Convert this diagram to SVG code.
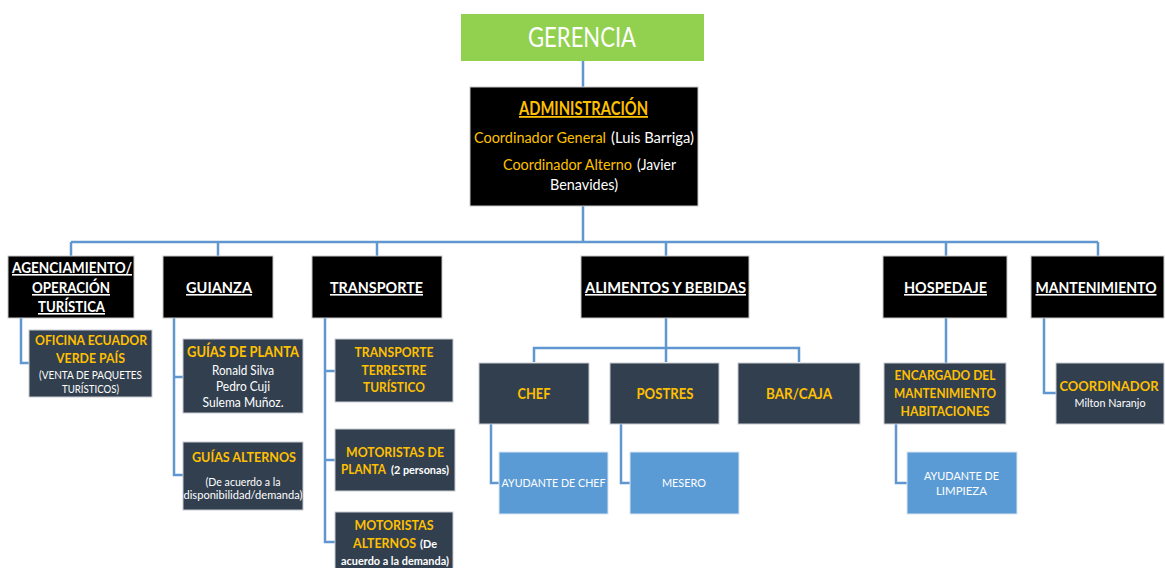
<svg xmlns="http://www.w3.org/2000/svg" width="1165" height="568" viewBox="0 0 1165 568">
<style>
text{font-family:Lato,"Liberation Sans",sans-serif;text-anchor:middle}
.s{text-anchor:start}
.blk{fill:#000;stroke:#c8c8c8;stroke-width:1}
.drk{fill:#323f4f;stroke:#c8ccd2;stroke-width:1}
.blu{fill:#5b9bd5;stroke:#dbe6f2;stroke-width:1}
.t{fill:#fff;font-weight:bold;font-size:16px;text-decoration:underline}
.o{fill:#ffc000;font-weight:bold}
.y{fill:#ffc000}
.w{fill:#fff}
.c{fill:none;stroke:#6197d0;stroke-width:2.5}
</style>
<g id="connectors">
<path class="c" d="M583 61V87M583 206V242M71 242H1098M71 242V256M218 242V256M377 242V256M666 242V256M946 242V256M1098 242V256"/>
<path class="c" d="M21 318V363H29"/>
<path class="c" d="M174 318V475H183M174 377H183"/>
<path class="c" d="M325 318V542H335M325 371H335M325 460H335"/>
<path class="c" d="M666 318V362M534 362V348H799V362"/>
<path class="c" d="M491 424V483H499M621 424V483H630"/>
<path class="c" d="M946 318V363M896 424V483H907"/>
<path class="c" d="M1044 318V393H1056"/>
</g>
<g id="gerencia"><rect x="461" y="14" width="243" height="47" fill="#92d050"/><text x="582" y="47" class="w" font-size="27" textLength="108" lengthAdjust="spacingAndGlyphs">GERENCIA</text></g>
<g id="administracion"><rect class="blk" x="470" y="87" width="228" height="119"/>
<text x="583.5" y="115" class="o" font-size="18" text-decoration="underline" textLength="129" lengthAdjust="spacingAndGlyphs">ADMINISTRACIÓN</text>
<text x="474" y="143" class="s y" font-size="14.5" textLength="132" lengthAdjust="spacingAndGlyphs">Coordinador General</text>
<text x="611" y="143" class="s w" font-size="14.5" textLength="83" lengthAdjust="spacingAndGlyphs">(Luis Barriga)</text>
<text x="503" y="170" class="s y" font-size="14.5" textLength="129" lengthAdjust="spacingAndGlyphs">Coordinador Alterno</text>
<text x="637" y="170" class="s w" font-size="14.5" textLength="39" lengthAdjust="spacingAndGlyphs">(Javier</text>
<text x="584" y="190" font-size="15" class="w" textLength="68" lengthAdjust="spacingAndGlyphs">Benavides)</text></g>
<g id="agenciamiento"><rect class="blk" x="8" y="256" width="126" height="62"/>
<text x="72" y="273" class="t" font-size="14.5" textLength="120" lengthAdjust="spacingAndGlyphs">AGENCIAMIENTO/</text><text x="71" y="293" class="t" textLength="78" lengthAdjust="spacingAndGlyphs">OPERACIÓN</text><text x="71.5" y="312" class="t" textLength="67" lengthAdjust="spacingAndGlyphs">TURÍSTICA</text></g>
<g id="guianza"><rect class="blk" x="163" y="256" width="110" height="62"/><text x="219" y="293" class="t" textLength="66" lengthAdjust="spacingAndGlyphs">GUIANZA</text></g>
<g id="transporte"><rect class="blk" x="312" y="256" width="130" height="62"/><text x="376.5" y="293" class="t" textLength="93" lengthAdjust="spacingAndGlyphs">TRANSPORTE</text></g>
<g id="alimentos"><rect class="blk" x="581" y="256" width="168" height="62"/><text x="665.5" y="293" class="t" textLength="161" lengthAdjust="spacingAndGlyphs">ALIMENTOS Y BEBIDAS</text></g>
<g id="hospedaje"><rect class="blk" x="883" y="256" width="124" height="62"/><text x="945.5" y="293" class="t" textLength="83" lengthAdjust="spacingAndGlyphs">HOSPEDAJE</text></g>
<g id="mantenimiento"><rect class="blk" x="1031" y="256" width="133" height="62"/><text x="1096" y="293" class="t" font-size="13.5" textLength="121" lengthAdjust="spacingAndGlyphs">MANTENIMIENTO</text></g>
<g id="oficina"><rect class="drk" x="29" y="330" width="123" height="67"/>
<text x="91" y="345" class="o" font-size="14" textLength="112" lengthAdjust="spacingAndGlyphs">OFICINA ECUADOR</text><text x="90.5" y="363" class="o" font-size="14" textLength="69" lengthAdjust="spacingAndGlyphs">VERDE PAÍS</text>
<text x="90.5" y="379" class="w" font-size="11.5" textLength="103" lengthAdjust="spacingAndGlyphs">(VENTA DE PAQUETES</text><text x="90.5" y="393" class="w" font-size="11.5" textLength="57" lengthAdjust="spacingAndGlyphs">TURÍSTICOS)</text></g>
<g id="guias-planta"><rect class="drk" x="183" y="339" width="120" height="74"/>
<text x="243" y="357" class="o" font-size="14.5" textLength="112" lengthAdjust="spacingAndGlyphs">GUÍAS DE PLANTA</text>
<text x="243" y="375" class="w" font-size="13" textLength="62" lengthAdjust="spacingAndGlyphs">Ronald Silva</text><text x="243" y="391" class="w" font-size="13" textLength="54" lengthAdjust="spacingAndGlyphs">Pedro Cuji</text><text x="243" y="407" class="w" font-size="13" textLength="81" lengthAdjust="spacingAndGlyphs">Sulema Muñoz.</text></g>
<g id="guias-alternos"><rect class="drk" x="183" y="442" width="120" height="68"/>
<text x="244" y="462" class="o" font-size="14" textLength="104" lengthAdjust="spacingAndGlyphs">GUÍAS ALTERNOS</text>
<text x="243" y="486" class="w" font-size="11.5" textLength="75" lengthAdjust="spacingAndGlyphs">(De acuerdo a la</text><text x="243" y="499" class="w" font-size="11" textLength="119" lengthAdjust="spacingAndGlyphs">disponibilidad/demanda)</text></g>
<g id="transporte-terrestre"><rect class="drk" x="335" y="339" width="118" height="63"/>
<text x="394" y="357" class="o" font-size="14" textLength="79" lengthAdjust="spacingAndGlyphs">TRANSPORTE</text><text x="394" y="375" class="o" font-size="14" textLength="65" lengthAdjust="spacingAndGlyphs">TERRESTRE</text><text x="394" y="392" class="o" font-size="14" textLength="62" lengthAdjust="spacingAndGlyphs">TURÍSTICO</text></g>
<g id="motoristas-planta"><rect class="drk" x="335" y="429" width="120" height="62"/>
<text x="395" y="457" class="o" font-size="14" textLength="98" lengthAdjust="spacingAndGlyphs">MOTORISTAS DE</text>
<text x="341" y="474" class="s o" font-size="13" textLength="45" lengthAdjust="spacingAndGlyphs">PLANTA</text>
<text x="391" y="474" class="s w" font-weight="bold" font-size="10.5" textLength="58" lengthAdjust="spacingAndGlyphs">(2 personas)</text></g>
<g id="motoristas-alternos"><rect class="drk" x="335" y="512" width="118" height="60"/>
<text x="394" y="530" class="o" font-size="14" textLength="79" lengthAdjust="spacingAndGlyphs">MOTORISTAS</text>
<text x="353" y="548" class="s o" font-size="12.5" textLength="63" lengthAdjust="spacingAndGlyphs">ALTERNOS</text>
<text x="420" y="548" class="s w" font-weight="bold" font-size="11" textLength="17" lengthAdjust="spacingAndGlyphs">(De</text>
<text x="395" y="565" class="w" font-weight="bold" font-size="11" textLength="108" lengthAdjust="spacingAndGlyphs">acuerdo a la demanda)</text></g>
<g id="chef"><rect class="drk" x="479" y="363" width="110" height="61"/><text x="534" y="399" class="o" font-size="16" textLength="33" lengthAdjust="spacingAndGlyphs">CHEF</text></g>
<g id="postres"><rect class="drk" x="610" y="363" width="109" height="61"/><text x="665" y="399" class="o" font-size="16" textLength="57" lengthAdjust="spacingAndGlyphs">POSTRES</text></g>
<g id="bar-caja"><rect class="drk" x="738" y="363" width="122" height="61"/><text x="799" y="399" class="o" font-size="16" textLength="66" lengthAdjust="spacingAndGlyphs">BAR/CAJA</text></g>
<g id="ayudante-chef"><rect class="blu" x="499" y="452" width="109" height="62"/><text x="553.5" y="487" class="w" font-size="12" textLength="104" lengthAdjust="spacingAndGlyphs">AYUDANTE DE CHEF</text></g>
<g id="mesero"><rect class="blu" x="630" y="452" width="109" height="62"/><text x="684" y="487" class="w" font-size="12" textLength="44" lengthAdjust="spacingAndGlyphs">MESERO</text></g>
<g id="encargado"><rect class="drk" x="884" y="363" width="122" height="61"/>
<text x="945" y="380" class="o" font-size="14" textLength="101" lengthAdjust="spacingAndGlyphs">ENCARGADO DEL</text><text x="945" y="398" class="o" font-size="14" textLength="102" lengthAdjust="spacingAndGlyphs">MANTENIMIENTO</text><text x="945" y="416" class="o" font-size="14" textLength="89" lengthAdjust="spacingAndGlyphs">HABITACIONES</text></g>
<g id="ayudante-limpieza"><rect class="blu" x="907" y="452" width="110" height="62"/>
<text x="961.5" y="480" class="w" font-size="12" textLength="75" lengthAdjust="spacingAndGlyphs">AYUDANTE DE</text><text x="961.5" y="495" class="w" font-size="12" textLength="51" lengthAdjust="spacingAndGlyphs">LIMPIEZA</text></g>
<g id="coordinador"><rect class="drk" x="1056" y="363" width="108" height="61"/>
<text x="1109" y="391" class="o" font-size="14" textLength="99" lengthAdjust="spacingAndGlyphs">COORDINADOR</text><text x="1110" y="407" class="w" font-size="11.5" textLength="71" lengthAdjust="spacingAndGlyphs">Milton Naranjo</text></g>
</svg>
